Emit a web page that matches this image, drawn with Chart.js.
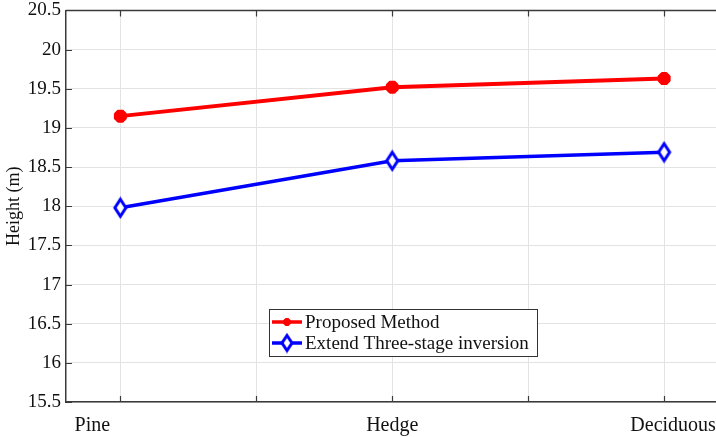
<!DOCTYPE html>
<html>
<head>
<meta charset="utf-8">
<script src="https://cdn.jsdelivr.net/npm/chart.js@4/dist/chart.umd.min.js"></script>
<style>
  html, body { margin: 0; padding: 0; background: #fff; overflow: hidden; }
  #wrap { width: 730px; height: 437px; overflow: hidden; }
  #c { display: block; margin-top: -6px; }
</style>
</head>
<body>
<div id="wrap"><canvas id="c" width="730" height="443"></canvas></div>
<script>
// Tree types along the x axis
const categories = ['Pine', 'Hedge', 'Deciduous'];
// Estimated heights (m)
const proposedMethod = [19.15, 19.52, 19.63];
const extendThreeStage = [17.98, 18.58, 18.69];
const seriesNames = ['Proposed Method', 'Extend Three-stage inversion'];
// Axis ticks
const yTicks = [15.5, 16, 16.5, 17, 17.5, 18, 18.5, 19, 19.5, 20, 20.5];
const xTicks = [1, 1.5, 2, 2.5, 3];
// Horizontal nudges for the category captions (px)
const captionShift = [-28, 0, 9];

const SERIF = "'Liberation Serif', serif";
const RED = '#ff0000';
const BLUE = '#0000ff';

// Hollow tall diamond marker
function diamondMarker(w, h, lw, color) {
  const cv = document.createElement('canvas');
  cv.width = w + lw * 2; cv.height = h + lw * 2;
  const g = cv.getContext('2d');
  const cx = cv.width / 2, cy = cv.height / 2;
  g.beginPath();
  g.moveTo(cx, cy - h / 2);
  g.lineTo(cx + w / 2, cy);
  g.lineTo(cx, cy + h / 2);
  g.lineTo(cx - w / 2, cy);
  g.closePath();
  g.fillStyle = '#fff';
  g.fill();
  g.lineWidth = lw;
  g.strokeStyle = color;
  g.stroke();
  return cv;
}
const diamond = diamondMarker(11, 17, 3, BLUE);
const diamondSmall = diamondMarker(10, 15, 3, BLUE);

const toPoints = vals => vals.map((v, i) => ({ x: i + 1, y: v }));

// Frame, inward tick marks, category captions and the boxed legend
const decor = {
  id: 'decor',
  afterDraw(chart) {
    const { ctx, chartArea: a, scales: { x, y } } = chart;
    ctx.save();
    ctx.strokeStyle = '#3a3a3a';
    ctx.lineWidth = 1.5;
    // top border
    ctx.beginPath();
    ctx.moveTo(a.left, a.top);
    ctx.lineTo(a.right, a.top);
    ctx.stroke();
    // inward ticks
    ctx.lineWidth = 1.2;
    ctx.beginPath();
    xTicks.forEach(t => {
      const px = Math.round(x.getPixelForValue(t)) + 0.5;
      ctx.moveTo(px, a.bottom); ctx.lineTo(px, a.bottom - 6);
      ctx.moveTo(px, a.top); ctx.lineTo(px, a.top + 6);
    });
    yTicks.forEach(t => {
      const py = Math.round(y.getPixelForValue(t)) + 0.5;
      ctx.moveTo(a.left, py); ctx.lineTo(a.left + 6, py);
    });
    ctx.stroke();

    // category captions
    ctx.fillStyle = '#111';
    ctx.font = '20px ' + SERIF;
    ctx.textAlign = 'center';
    ctx.textBaseline = 'middle';
    categories.forEach((c, i) => {
      ctx.fillText(c, x.getPixelForValue(i + 1) + captionShift[i], a.bottom + 24);
    });

    // legend box
    const bx = 269, by = y.getPixelForValue(15.5) - 93, bw = 268, bh = 47;
    ctx.fillStyle = '#fff';
    ctx.fillRect(bx, by, bw, bh);
    ctx.strokeStyle = '#333';
    ctx.lineWidth = 1;
    ctx.strokeRect(bx + 0.5, by + 0.5, bw, bh);
    ctx.font = '19px ' + SERIF;
    ctx.textAlign = 'left';
    const rows = [by + 13, by + 34];
    // red row
    ctx.strokeStyle = RED; ctx.lineWidth = 3.5;
    ctx.beginPath(); ctx.moveTo(bx + 3, rows[0]); ctx.lineTo(bx + 33, rows[0]); ctx.stroke();
    ctx.lineWidth = 3;
    ctx.beginPath();
    const sx = bx + 18, r = 4;
    ctx.moveTo(sx - r, rows[0]); ctx.lineTo(sx + r, rows[0]);
    ctx.moveTo(sx, rows[0] - r); ctx.lineTo(sx, rows[0] + r);
    ctx.moveTo(sx - r * 0.7, rows[0] - r * 0.7); ctx.lineTo(sx + r * 0.7, rows[0] + r * 0.7);
    ctx.moveTo(sx - r * 0.7, rows[0] + r * 0.7); ctx.lineTo(sx + r * 0.7, rows[0] - r * 0.7);
    ctx.stroke();
    // blue row
    ctx.strokeStyle = BLUE; ctx.lineWidth = 3.5;
    ctx.beginPath(); ctx.moveTo(bx + 3, rows[1]); ctx.lineTo(bx + 33, rows[1]); ctx.stroke();
    ctx.drawImage(diamondSmall, sx - diamondSmall.width / 2, rows[1] - diamondSmall.height / 2);
    ctx.fillStyle = '#111';
    ctx.fillText(seriesNames[0], bx + 36, rows[0] + 1);
    ctx.fillText(seriesNames[1], bx + 36, rows[1] + 1);
    ctx.restore();
  }
};

new Chart(document.getElementById('c'), {
  type: 'line',
  data: {
    datasets: [
      {
        label: seriesNames[0],
        data: toPoints(proposedMethod),
        borderColor: RED,
        backgroundColor: RED,
        borderWidth: 4,
        pointStyle: 'star',
        pointRadius: 6.5,
        pointBorderWidth: 5,
        pointBorderColor: RED,
        pointBackgroundColor: RED
      },
      {
        label: seriesNames[1],
        data: toPoints(extendThreeStage),
        borderColor: BLUE,
        backgroundColor: BLUE,
        borderWidth: 3.5,
        pointStyle: diamond,
        pointRadius: 8
      }
    ]
  },
  options: {
    responsive: false,
    animation: false,
    events: [],
    layout: { padding: { top: 0, right: 7, left: 3, bottom: 0 } },
    plugins: { legend: { display: false }, tooltip: { enabled: false } },
    scales: {
      x: {
        type: 'linear',
        min: 0.8,
        max: 3.2,
        afterBuildTicks: s => { s.ticks = xTicks.map(v => ({ value: v })); },
        afterFit: s => { s.height = 35; },
        ticks: { display: false },
        grid: { color: '#e3e3e3', lineWidth: 1, drawTicks: false },
        border: { display: true, color: '#3a3a3a', width: 1.5 }
      },
      y: {
        min: 15.5,
        max: 20.5,
        afterBuildTicks: s => { s.ticks = yTicks.map(v => ({ value: v })); },
        afterFit: s => { s.width = 63; },
        ticks: {
          color: '#111',
          font: { family: SERIF, size: 19 },
          padding: 5,
          callback: v => String(v)
        },
        grid: { color: '#e3e3e3', lineWidth: 1, drawTicks: false },
        border: { display: true, color: '#3a3a3a', width: 1.5 },
        title: {
          display: true,
          text: 'Height (m)',
          color: '#111',
          font: { family: SERIF, size: 18 },
          padding: { top: 0, bottom: 0 }
        }
      }
    }
  },
  plugins: [decor]
});
</script>
</body>
</html>
